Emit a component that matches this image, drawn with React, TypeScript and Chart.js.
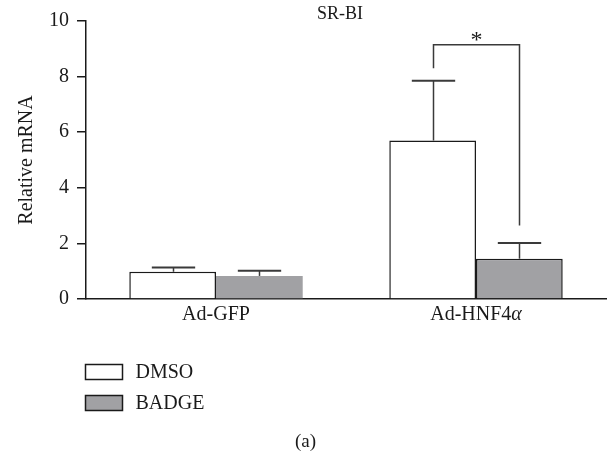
import React, { useEffect, useRef } from "react";
import { Chart, registerables } from "chart.js";

Chart.register(...registerables);

const categories = ["Ad-GFP", "Ad-HNF4α"];
const seriesNames = ["DMSO", "BADGE"];
const dmsoValues = [0.98, 5.7];
const dmsoErrors = [0.15, 2.15];
const badgeValues = [0.83, 1.45];
const badgeErrors = [0.19, 0.56];
const yTicks = [0, 2, 4, 6, 8, 10];
const chartTitle = "SR-BI";
const yAxisTitle = "Relative mRNA";
const panelLabel = "(a)";
const sigMark = "*";
const bracketTop = 9.15;
const bracketLeftEnd = 8.3;
const bracketRightEnd = 2.64;

const FONT = "'Liberation Serif', 'Times New Roman', serif";
const INK = "#1a1a1a";
const LINE = "#3a3a3a";
const GRAY = "#a1a1a4";

const errorsBySeries = [dmsoErrors, badgeErrors];

const decorPlugin = {
  id: "decor",
  afterDatasetsDraw(chart: any) {
    const ctx = chart.ctx as CanvasRenderingContext2D;
    const y = chart.scales.y;
    const x = chart.scales.x;
    const area = chart.chartArea;
    ctx.save();
    // error bars (upper only)
    chart.data.datasets.forEach((ds: any, di: number) => {
      const meta = chart.getDatasetMeta(di);
      meta.data.forEach((el: any, i: number) => {
        const v = ds.data[i];
        const e = errorsBySeries[di][i];
        const top = y.getPixelForValue(v + e);
        const cx = Math.round(el.x) + 0.5;
        ctx.strokeStyle = LINE;
        ctx.lineWidth = 1.5;
        ctx.beginPath();
        ctx.moveTo(cx, el.y);
        ctx.lineTo(cx, top);
        ctx.stroke();
        const half = el.width / 4;
        ctx.lineWidth = 2;
        ctx.beginPath();
        ctx.moveTo(cx - half, top);
        ctx.lineTo(cx + half, top);
        ctx.stroke();
      });
    });
    // significance bracket between the two Ad-HNF4α bars
    const m0 = chart.getDatasetMeta(0).data[1];
    const m1 = chart.getDatasetMeta(1).data[1];
    const lx = Math.round(m0.x) + 0.5;
    const rx = Math.round(m1.x) + 0.5;
    const by = y.getPixelForValue(bracketTop);
    ctx.strokeStyle = LINE;
    ctx.lineWidth = 1.5;
    ctx.beginPath();
    ctx.moveTo(lx, y.getPixelForValue(bracketLeftEnd));
    ctx.lineTo(lx, by);
    ctx.lineTo(rx, by);
    ctx.lineTo(rx, y.getPixelForValue(bracketRightEnd));
    ctx.stroke();
    ctx.fillStyle = INK;
    ctx.font = `24px ${FONT}`;
    ctx.textAlign = "center";
    ctx.textBaseline = "alphabetic";
    ctx.fillText(sigMark, (lx + rx) / 2, by + 2);

    // title
    ctx.font = `18px ${FONT}`;
    ctx.textBaseline = "middle";
    ctx.fillText(chartTitle, (area.left + area.right) / 2 - 6, area.top - 7);

    // y axis title
    ctx.save();
    ctx.translate(27, (area.top + area.bottom) / 2);
    ctx.rotate(-Math.PI / 2);
    ctx.font = `20px ${FONT}`;
    ctx.textAlign = "center";
    ctx.textBaseline = "middle";
    ctx.fillText(yAxisTitle, 0, 0);
    ctx.restore();

    // category labels (α in italic)
    ctx.textBaseline = "middle";
    ctx.textAlign = "left";
    categories.forEach((c, i) => {
      const cx = x.getPixelForValue(i);
      const cy = area.bottom + 16;
      const idx = c.indexOf("α");
      if (idx >= 0) {
        const a = c.slice(0, idx);
        const b = c.slice(idx);
        ctx.font = `20px ${FONT}`;
        const wa = ctx.measureText(a).width;
        ctx.font = `italic 20px ${FONT}`;
        const wb = ctx.measureText(b).width;
        const sx = cx - (wa + wb) / 2;
        ctx.font = `20px ${FONT}`;
        ctx.fillText(a, sx, cy);
        ctx.font = `italic 20px ${FONT}`;
        ctx.fillText(b, sx + wa, cy);
      } else {
        ctx.font = `20px ${FONT}`;
        const w = ctx.measureText(c).width;
        ctx.fillText(c, cx - w / 2, cy);
      }
    });

    // legend
    const fills = ["#ffffff", GRAY];
    seriesNames.forEach((name, i) => {
      const bx = area.left - 0.5;
      const byy = area.bottom + 65.5 + i * 31;
      ctx.fillStyle = fills[i];
      ctx.fillRect(bx, byy, 37, 15);
      ctx.strokeStyle = INK;
      ctx.lineWidth = 1.5;
      ctx.strokeRect(bx, byy, 37, 15);
      ctx.fillStyle = INK;
      ctx.font = `20px ${FONT}`;
      ctx.textAlign = "left";
      ctx.textBaseline = "middle";
      ctx.fillText(name, bx + 50, byy + 8);
    });

    // panel label
    ctx.font = `19px ${FONT}`;
    ctx.textAlign = "center";
    ctx.textBaseline = "middle";
    ctx.fillText(panelLabel, chart.width / 2, area.bottom + 143);
    ctx.restore();
  },
};

export default function App() {
  const ref = useRef<HTMLCanvasElement | null>(null);
  useEffect(() => {
    document.body.style.margin = "0";
    const canvas = ref.current;
    if (!canvas) return;
    const chart = new Chart(canvas, {
      type: "bar",
      data: {
        labels: categories,
        datasets: [
          {
            label: seriesNames[0],
            data: dmsoValues,
            backgroundColor: "#ffffff",
            borderColor: INK,
            borderWidth: 1.5,
            borderSkipped: "start",
            categoryPercentage: 0.667,
            barPercentage: 1,
          },
          {
            label: seriesNames[1],
            data: badgeValues,
            backgroundColor: GRAY,
            borderColor: INK,
            borderWidth: [0, 1.5],
            borderSkipped: "start",
            categoryPercentage: 0.667,
            barPercentage: 1,
          },
        ],
      },
      options: {
        responsive: false,
        animation: false,
        layout: { padding: { top: 21, right: 5, left: 0, bottom: 0 } },
        plugins: {
          legend: { display: false },
          title: { display: false },
          tooltip: { enabled: false },
        },
        scales: {
          x: {
            ticks: { display: false },
            grid: { display: false },
            border: { display: true, color: INK, width: 1.5 },
            afterFit: (s: any) => {
              s.height = 155;
            },
          },
          y: {
            min: 0,
            max: 10,
            afterBuildTicks: (s: any) => {
              s.ticks = yTicks.map((v) => ({ value: v }));
            },
            ticks: {
              color: INK,
              font: { family: FONT, size: 20 },
              padding: 8,
            },
            grid: {
              drawOnChartArea: false,
              drawTicks: true,
              tickLength: 9,
              color: INK,
              lineWidth: 1.5,
            },
            border: { display: true, color: INK, width: 1.5 },
            afterFit: (s: any) => {
              s.width = 86;
            },
          },
        },
      },
      plugins: [decorPlugin],
    } as any);
    return () => chart.destroy();
  }, []);
  return (
    <div style={{ width: 611, height: 454 }}>
      <canvas ref={ref} width={611} height={454} style={{ display: "block" }} />
    </div>
  );
}
